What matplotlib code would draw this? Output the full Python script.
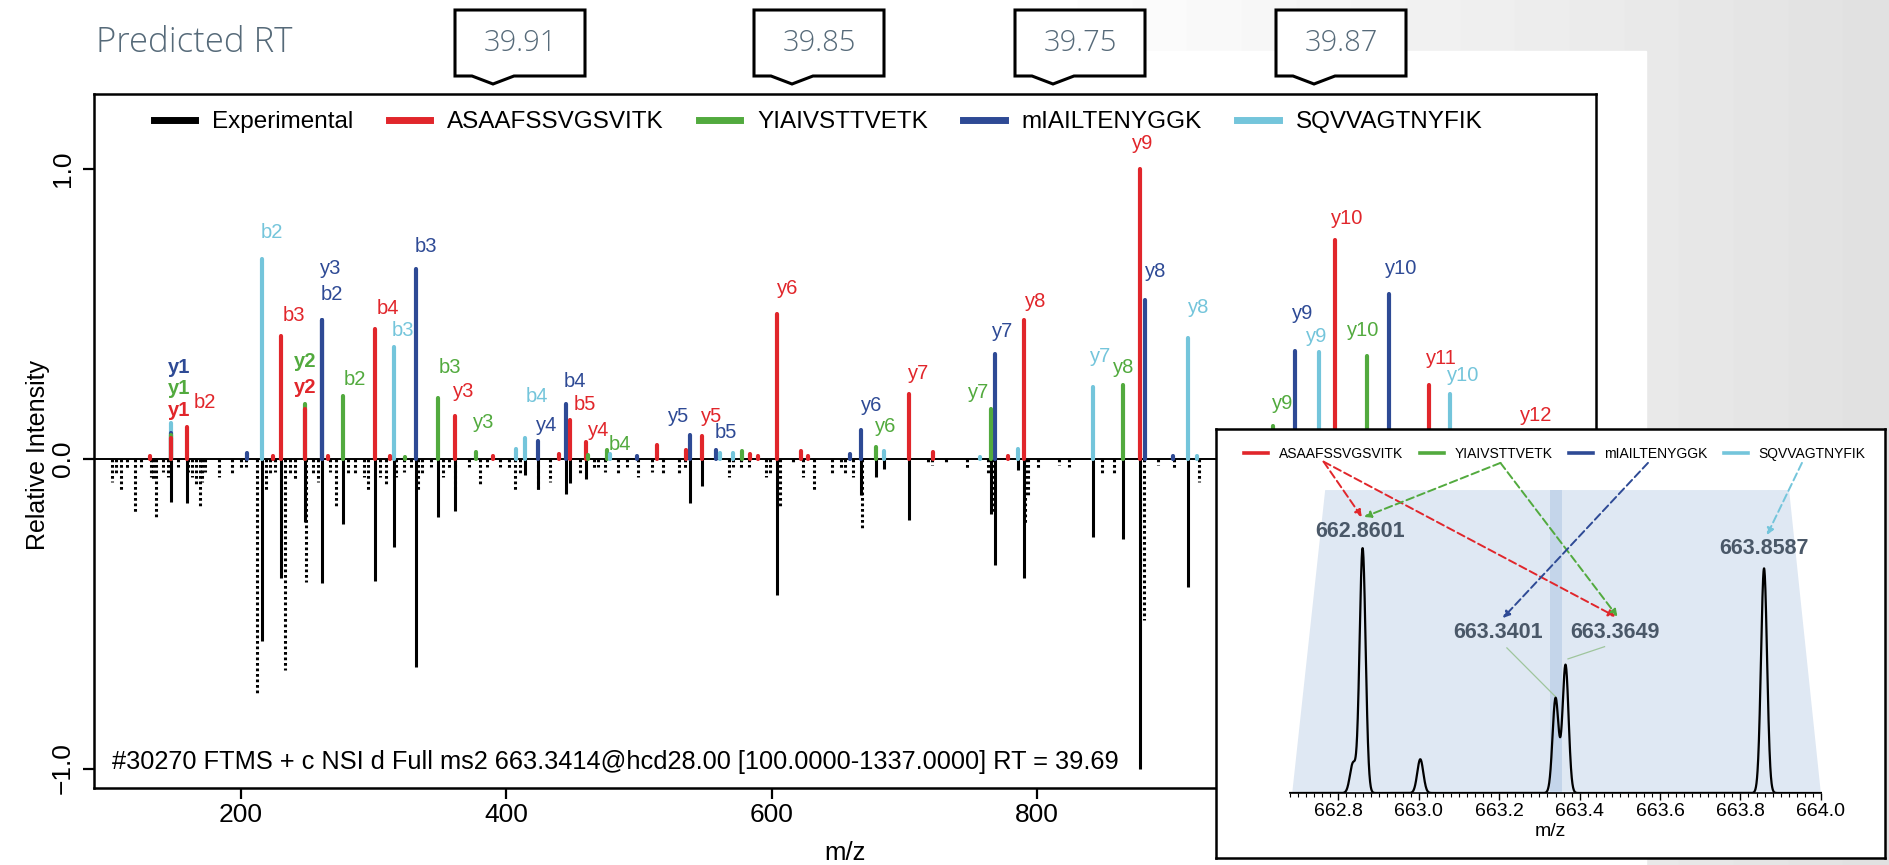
import numpy as np
import matplotlib.pyplot as plt
from matplotlib.lines import Line2D
from matplotlib.patches import Polygon, Rectangle

plt.rcParams['font.family'] = ['Liberation Sans', 'DejaVu Sans']

# ---- predicted fragment ions per candidate peptide (m/z, relative intensity) ----
peptides = ['ASAAFSSVGSVITK', 'YIAIVSTTVETK', 'mIAILTENYGGK', 'SQVVAGTNYFIK']
pred_rt = ['39.91', '39.85', '39.75', '39.87']

red_ions = ['y1', 'b2', 'b3', 'y2', 'b4', 'y3', 'b5', 'y4', 'y5', 'y6', 'y7', 'y8', 'y9', 'y10', 'y11', 'y12']
red_mz = [147.113, 159.077, 230.114, 248.161, 301.151, 361.245, 448.219, 460.313, 547.345, 604.367,
          703.435, 790.467, 877.499, 1024.568, 1095.605, 1166.642]
red_int = [0.069, 0.109, 0.423, 0.172, 0.448, 0.146, 0.132, 0.056, 0.079, 0.499,
           0.224, 0.476, 1.0, 0.752, 0.253, 0.06]

green_ions = ['y1', 'y2', 'b2', 'b3', 'y3', 'b4', 'y6', 'y7', 'y8', 'y9', 'y10']
green_mz = [147.113, 248.161, 277.155, 348.192, 377.203, 461.276, 678.367, 765.399, 864.467, 977.551, 1048.588]
green_int = [0.080, 0.187, 0.216, 0.209, 0.021, 0.012, 0.040, 0.172, 0.253, 0.111, 0.353]

blue_ions = ['y1', 'y3', 'b2', 'b3', 'y4', 'b4', 'y5', 'b5', 'y6', 'y7', 'y8', 'y9', 'y10']
blue_mz = [147.113, 261.156, 261.127, 332.164, 424.219, 445.248, 538.262, 558.332, 667.305,
           768.352, 881.436, 994.520, 1065.557]
blue_int = [0.088, 0.479, 0.479, 0.655, 0.059, 0.188, 0.080, 0.028, 0.098, 0.362, 0.548, 0.372, 0.566]

cyan_ions = ['', 'b2', 'b3', 'b4', 'y7', 'y8', 'y9', 'y10']
cyan_mz = [147.113, 216.098, 315.166, 414.235, 842.441, 913.478, 1012.546, 1111.615]
cyan_int = [0.123, 0.687, 0.385, 0.071, 0.246, 0.416, 0.368, 0.223]

# small unannotated matches
red_minor_mz = [131.6, 224.0, 265.9, 312.4, 389.8, 440.0, 513.4, 535.2, 583.7, 590.0, 622.1, 627.6, 721.4, 778.4]
red_minor_int = [0.007, 0.007, 0.007, 0.007, 0.01, 0.015, 0.045, 0.028, 0.015, 0.007, 0.025, 0.01, 0.024, 0.01]
green_minor_mz = [323.7, 476.271, 577.4]
green_minor_int = [0.004, 0.03, 0.025]
blue_minor_mz = [204.4, 498.3, 659.0, 902.7]
blue_minor_int = [0.02, 0.01, 0.017, 0.01]
cyan_minor_mz = [407.265, 478.3, 561.1, 570.6, 684.372, 757.0, 785.419, 920.3]
cyan_minor_int = [0.034, 0.015, 0.02, 0.02, 0.025, 0.005, 0.034, 0.01]

# experimental spectrum (drawn downwards): matched peaks solid, unmatched dotted
exp_mz = [147.113, 159.077, 216.098, 230.114, 248.161, 261.15, 277.155, 301.151, 315.166, 332.164,
          348.192, 361.245, 414.235, 424.219, 445.248, 448.219, 460.313, 538.262, 547.345, 604.367,
          667.305, 678.367, 684.372, 703.435, 765.399, 768.352, 785.419, 790.467, 842.441, 864.467,
          877.499, 913.478]
exp_int = [0.14, 0.145, 0.59, 0.387, 0.204, 0.40, 0.21, 0.396, 0.285, 0.672,
           0.19, 0.169, 0.054, 0.097, 0.113, 0.078, 0.065, 0.143, 0.089, 0.441,
           0.118, 0.059, 0.035, 0.199, 0.18, 0.342, 0.037, 0.384, 0.253, 0.261,
           1.0, 0.414]
noise_mz = [103.2, 106.0, 110.0, 114.2, 120.0, 124.4, 132.2, 133.8, 136.0, 141.3, 145.0, 152.4, 159.8,
            163.2, 166.5, 169.0, 170.7, 173.0, 183.4, 193.3, 200.1, 204.2, 212.0, 218.6, 222.0, 225.4,
            233.1, 237.0, 240.5, 249.0, 254.0, 258.0, 267.5, 271.5, 280.9, 285.9, 292.6, 296.0, 304.5,
            309.5, 317.2, 323.0, 328.0, 333.5, 336.4, 343.1, 352.5, 356.6, 361.7, 371.8, 380.1, 385.2,
            395.3, 402.0, 406.4, 410.4, 424.0, 433.0, 455.9, 466.0, 469.3, 474.4, 484.5, 491.2, 499.6,
            509.7, 518.1, 529.9, 535.0, 567.7, 570.8, 577.0, 583.3, 595.8, 598.9, 606.1, 616.1, 623.9,
            631.7, 645.8, 652.0, 655.2, 661.4, 667.8, 717.7, 720.8, 731.7, 747.4, 763.0, 766.5, 791.1,
            793.0, 801.1, 816.7, 823.9, 848.9, 858.3, 880.3, 891.1, 903.6, 922.3]
noise_int = [0.075, 0.048, 0.1, 0.032, 0.18, 0.027, 0.059, 0.065, 0.196, 0.043, 0.059, 0.027, 0.043,
             0.059, 0.081, 0.156, 0.075, 0.043, 0.059, 0.048, 0.032, 0.027, 0.763, 0.102, 0.048, 0.043,
             0.683, 0.048, 0.07, 0.398, 0.048, 0.075, 0.043, 0.156, 0.054, 0.048, 0.059, 0.102, 0.059,
             0.086, 0.059, 0.043, 0.038, 0.102, 0.048, 0.027, 0.059, 0.038, 0.102, 0.027, 0.086, 0.027,
             0.027, 0.038, 0.102, 0.048, 0.102, 0.075, 0.048, 0.038, 0.027, 0.043, 0.054, 0.027, 0.059,
             0.043, 0.048, 0.054, 0.032, 0.059, 0.027, 0.032, 0.027, 0.059, 0.054, 0.156, 0.016, 0.059,
             0.1, 0.048, 0.038, 0.048, 0.059, 0.223, 0.016, 0.021, 0.016, 0.032, 0.048, 0.18, 0.21,
             0.124, 0.032, 0.021, 0.027, 0.048, 0.048, 0.52, 0.021, 0.032, 0.075]

# MS1 isolation window
ms1_mz = [662.836, 662.8601, 663.0036, 663.3401, 663.3649, 663.8587]
ms1_int = [0.12, 1.0, 0.138, 0.387, 0.523, 0.918]
ms1_labels = ['662.8601', '663.3401', '663.3649', '663.8587']
precursor_mz = 663.3414

scan_header = '#30270 FTMS + c NSI d Full ms2 663.3414@hcd28.00 [100.0000-1337.0000] RT = 39.69'

RED, GREEN, BLUE, CYAN = '#e1262b', '#52aa3e', '#2e4a95', '#74c5db'
colors = [RED, GREEN, BLUE, CYAN]
SLATE = '#566a79'

# label offsets (pixels right, pixels up) from each stick top
red_off = [(8, 28), (18, 24), (13, 20), (0, 21), (13, 20), (9, 25), (15, 16), (12, 12), (10, 19),
           (10, 25), (10, 20), (11, 19), (3, 25), (12, 22), (12, 27), (13, 26)]
green_off = [(8, 47), (0, 43), (12, 16), (12, 30), (8, 30), (32, 11), (10, 20), (-12, 16), (1, 18),
             (10, 23), (-4, 26)]
blue_off = [(8, 65), (9, 51), (10, 25), (10, 22), (8, 16), (9, 22), (-11, 19), (10, 18), (11, 25),
            (8, 22), (11, 28), (8, 37), (12, 26)]
cyan_off = [(0, 0), (10, 27), (9, 16), (12, 41), (7, 31), (11, 30), (-2, 15), (13, 18)]

W, H = 1890, 865
fig = plt.figure(figsize=(W / 100, H / 100), dpi=100)


def rect(l, t, r, b):
    return [l / W, 1 - b / H, (r - l) / W, (b - t) / H]


# backdrop: white slide fading to grey on the right
bg = fig.add_axes([0, 0, 1, 1], zorder=-10)
bg.set_xlim(0, W)
bg.set_ylim(H, 0)
bg.axis('off')
ramp = np.clip((np.arange(W) - 1050) / 840.0, 0, 1)
bg.imshow(np.tile(1 - 0.12 * ramp, (H, 1)), cmap='gray', vmin=0, vmax=1,
          aspect='auto', extent=[0, W, H, 0])
bg.add_patch(Rectangle((0, 51), 1646, H - 51, color='white'))

# ---- main mirror plot ----
ax = fig.add_axes(rect(94, 94, 1596, 788), zorder=1)
POS = 290 / 310


def fwd(y):
    y = np.asarray(y, dtype=float)
    return np.where(y > 0, y * POS, y)


def inv(y):
    y = np.asarray(y, dtype=float)
    return np.where(y > 0, y / POS, y)


ax.set_yscale('function', functions=(fwd, inv))
ax.set_xlim(89.3, 1221.3)
ax.set_ylim(-1.0629, 1.2569)
ax.axhline(0, color='black', lw=1.4, zorder=2)

for m, v in zip(exp_mz, exp_int):
    ax.plot([m, m], [0, -v], color='black', lw=2.2, solid_capstyle='butt', zorder=3)
for m, v in zip(noise_mz, noise_int):
    ax.plot([m, m], [0, -v], color='black', lw=2.2, ls=(0, (0.9, 0.9)), dash_capstyle='butt', zorder=3)

sticks = []
for c, mz, it in [(RED, red_mz, red_int), (GREEN, green_mz, green_int),
                  (BLUE, blue_mz, blue_int), (CYAN, cyan_mz, cyan_int),
                  (RED, red_minor_mz, red_minor_int), (GREEN, green_minor_mz, green_minor_int),
                  (BLUE, blue_minor_mz, blue_minor_int), (CYAN, cyan_minor_mz, cyan_minor_int)]:
    sticks += [(m, v, c) for m, v in zip(mz, it)]
for m, v, c in sorted(sticks, key=lambda s: -s[1]):
    ax.plot([m, m], [0, v], color=c, lw=3.0, solid_capstyle='round', zorder=4)

for c, ions, mz, it, off in [(RED, red_ions, red_mz, red_int, red_off),
                             (GREEN, green_ions, green_mz, green_int, green_off),
                             (BLUE, blue_ions, blue_mz, blue_int, blue_off),
                             (CYAN, cyan_ions, cyan_mz, cyan_int, cyan_off)]:
    for ion, m, v, (dx, up) in zip(ions, mz, it, off):
        if not ion:
            continue
        ax.annotate(ion, (m, v), xytext=(dx, up), textcoords='offset pixels',
                    ha='center', va='center', color=c, fontsize=14.5,
                    fontweight='bold' if ion in ('y1', 'y2') else 'normal', zorder=5)

ax.set_xticks([200, 400, 600, 800])
ax.set_yticks([-1, 0, 1])
ax.set_yticklabels(['\u22121.0', '0.0', '1.0'])
ax.tick_params(direction='out', length=8, width=1.6, labelsize=19)
ax.tick_params(axis='x', pad=3)
ax.tick_params(axis='y', pad=6)
for lbl in ax.get_yticklabels():
    lbl.set_rotation(90)
    lbl.set_va('center')
for s in ax.spines.values():
    s.set_linewidth(1.8)

handles = [Line2D([], [], color=c, lw=5) for c in ['black'] + colors]
ax.legend(handles, ['Experimental'] + peptides, ncol=5, loc='center left',
          bbox_to_anchor=(154 / W, 1 - 122 / H), bbox_transform=fig.transFigure,
          frameon=False, fontsize=17.5, handlelength=1.7, handletextpad=0.7,
          columnspacing=1.45, borderpad=0, borderaxespad=0)

fig.text(112 / W, 1 - 762 / H, scan_header, fontsize=18.3, va='center', ha='left')
fig.text(38 / W, 1 - 455 / H, 'Relative Intensity', fontsize=18, rotation=90, ha='center', va='center')
fig.text(845 / W, 1 - 853 / H, 'm/z', fontsize=18.5, ha='center', va='center')

# ---- MS1 inset ----
frame = fig.add_axes(rect(1216, 429, 1885, 858), zorder=5)
frame.set_xticks([])
frame.set_yticks([])
for s in frame.spines.values():
    s.set_linewidth(1.8)

ins = fig.add_axes(rect(1216, 429, 1885, 793), zorder=6)
ins.patch.set_alpha(0)
ins.set_xlim(662.4954, 664.1596)
ins.set_ylim(0, 1.4875)
for k in ('left', 'right', 'top'):
    ins.spines[k].set_visible(False)
ins.spines['bottom'].set_bounds(662.68, 664.0)
ins.spines['bottom'].set_linewidth(1.2)
ins.set_yticks([])
ins.set_xticks(np.round(np.arange(662.8, 664.01, 0.2), 1))
ins.set_xticklabels(['%.1f' % t for t in np.arange(662.8, 664.01, 0.2)])
ins.set_xticks(np.arange(662.68, 664.001, 0.02), minor=True)
ins.tick_params(axis='x', which='major', length=5, width=1.0, labelsize=14, pad=2)
ins.tick_params(axis='x', which='minor', length=3, width=0.8)
ins.set_xlabel('m/z', fontsize=14, labelpad=2)

ins.add_patch(Polygon([(662.685, 0), (662.767, 1.238), (663.921, 1.238), (664.0, 0)],
                      closed=True, color='#dfe8f3', lw=0, zorder=0))
ins.add_patch(Rectangle((precursor_mz - 0.0145, 0), 0.029, 1.238, color='#c4d5ea', lw=0, zorder=0.5))

xs = np.linspace(662.68, 664.0, 4000)
trace = sum(h * np.exp(-0.5 * ((xs - m) / 0.0075) ** 2) for m, h in zip(ms1_mz, ms1_int))
ins.plot(xs, trace, color='black', lw=1.6, zorder=3)

lab_pos = [(662.853, 1.068), (663.197, 0.654), (663.489, 0.654), (663.859, 1.0)]
for txt, (x, y) in zip(ms1_labels, lab_pos):
    ins.text(x, y, txt, ha='center', va='center', fontsize=15.5, fontweight='bold', color='#4a5868', zorder=4)
ins.plot([663.219, 663.341], [0.593, 0.392], color='#9fc59c', lw=0.9, zorder=2)
ins.plot([663.462, 663.371], [0.598, 0.548], color='#9fc59c', lw=0.9, zorder=2)

arrows = [(RED, (662.763, 1.354), (662.858, 1.128)), (RED, (662.763, 1.354), (663.489, 0.721)),
          (GREEN, (663.203, 1.349), (662.864, 1.128)), (GREEN, (663.203, 1.349), (663.494, 0.721)),
          (BLUE, (663.570, 1.349), (663.209, 0.715)), (CYAN, (663.953, 1.349), (663.866, 1.054))]
for c, a, b in arrows:
    ins.annotate('', xy=b, xytext=a,
                 arrowprops=dict(arrowstyle='-|>', color=c, lw=1.4, ls=(0, (4, 2)),
                                 mutation_scale=10, shrinkA=0, shrinkB=0), zorder=4)

ins.legend([Line2D([], [], color=c, lw=2.6) for c in colors], peptides, ncol=4, loc='center left',
           bbox_to_anchor=(1244 / W, 1 - 454 / H), bbox_transform=fig.transFigure,
           frameon=False, fontsize=10, handlelength=1.75, handletextpad=0.75,
           columnspacing=1.2, borderpad=0, borderaxespad=0)

# ---- predicted retention time callouts ----
top = fig.add_axes([0, 0, 1, 1], zorder=10)
top.set_xlim(0, W)
top.set_ylim(H, 0)
top.axis('off')
title_font = ['Open Sans', 'DejaVu Sans']
top.text(96, 43, 'Predicted RT', fontsize=25, color=SLATE, family=title_font,
         fontweight='light', ha='left', va='center')
for rt, left in zip(pred_rt, [455, 754, 1015, 1276]):
    r, t, b, tip = left + 130, 10, 76, left + 38
    pts = [(left, t), (r, t), (r, b), (tip + 21, b), (tip, b + 8), (tip - 21, b), (left, b)]
    top.add_patch(Polygon(pts, closed=True, facecolor='white', edgecolor='black', lw=2.2, joinstyle='miter'))
    top.text(left + 65, 43, rt, fontsize=21, color=SLATE, family=title_font,
             fontweight='light', ha='center', va='center')

fig.savefig('out.png', dpi=100)
